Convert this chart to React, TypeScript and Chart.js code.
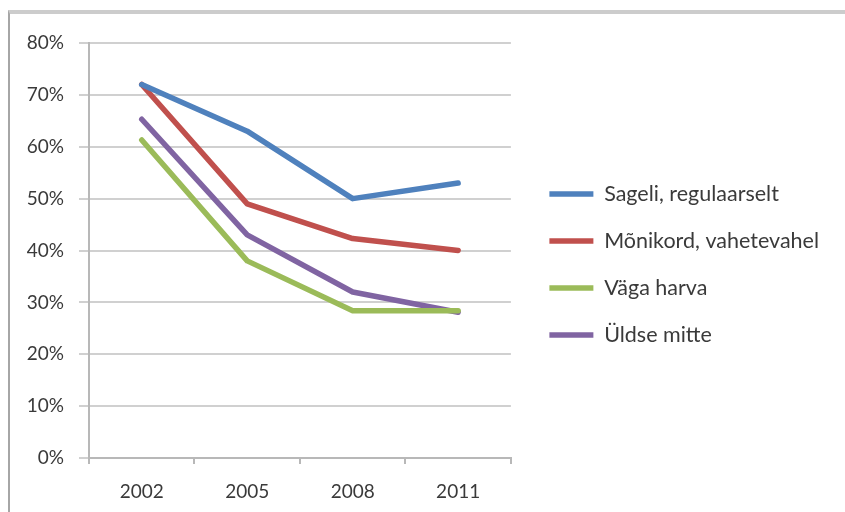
import React, { useEffect, useRef } from 'react';
import { Chart, registerables } from 'chart.js';

Chart.register(...registerables);

const years = ['2002', '2005', '2008', '2011'];
const sageliRegulaarselt = [72, 63, 50, 53];
const monikordVahetevahel = [72, 49, 42.3, 40];
const vagaHarva = [61.3, 38, 28.4, 28.4];
const uldseMitte = [65.3, 43, 32, 28.1];
const seriesNames = ['Sageli, regulaarselt', 'Mõnikord, vahetevahel', 'Väga harva', 'Üldse mitte'];
const seriesColors = ['#4f81bd', '#c0504d', '#9bbb59', '#8064a2'];
const yMin = 0;
const yMax = 80;
const yStep = 10;

export default function App() {
  const ref = useRef<HTMLCanvasElement>(null);
  useEffect(() => {
    const values = [sageliRegulaarselt, monikordVahetevahel, vagaHarva, uldseMitte];
    const chart = new Chart(ref.current!, {
      type: 'line',
      data: {
        labels: years,
        datasets: values.map((v, i) => ({
          label: seriesNames[i],
          data: v,
          borderColor: seriesColors[i],
          backgroundColor: seriesColors[i],
          borderWidth: 5.5,
          borderCapStyle: 'round' as const,
          borderJoinStyle: 'round' as const,
          pointRadius: 0,
          pointHoverRadius: 0,
          tension: 0,
          fill: false,
        })),
      },
      options: {
        responsive: false,
        animation: false,
        events: [],
        layout: { padding: { top: 29, left: 0, right: 16, bottom: 0 } },
        plugins: {
          tooltip: { enabled: false },
          legend: {
            position: 'right',
            align: 'center',
            fullSize: false,
            maxWidth: 400,
            title: { display: true, text: '', padding: 8, font: { size: 10 } },
            labels: {
              usePointStyle: true,
              pointStyle: 'line',
              pointStyleWidth: 44,
              padding: 25.5,
              color: '#3a3a3a',
              font: { family: 'Lato', size: 21.5 },
            },
          },
        },
        scales: {
          x: {
            type: 'category',
            offset: true,
            afterFit: (s: any) => { s.height = 54; },
            grid: {
              offset: true,
              drawOnChartArea: false,
              drawTicks: true,
              tickLength: 6,
              color: '#b8b8b8',
              lineWidth: 2,
            },
            border: { display: true, color: '#b8b8b8', width: 2 },
            ticks: {
              color: '#3a3a3a',
              padding: 16,
              font: { family: 'Lato', size: 19 },
              maxRotation: 0,
            },
          },
          y: {
            min: yMin,
            max: yMax,
            afterFit: (s: any) => { s.width = 79; },
            grid: {
              color: '#d0d0d0',
              lineWidth: 2,
              tickLength: 10,
              drawTicks: true,
            },
            border: { display: true, color: '#b8b8b8', width: 2 },
            ticks: {
              stepSize: yStep,
              color: '#3a3a3a',
              padding: 15,
              font: { family: 'Lato', size: 19 },
              callback: (v: any) => `${v}%`,
            },
          },
          gap: {
            type: 'linear',
            position: 'right',
            display: true,
            afterFit: (s: any) => { s.width = 13; },
            grid: { display: false, drawTicks: false },
            border: { display: false },
            ticks: { display: false },
          },
        },
      },
    } as any);
    return () => chart.destroy();
  }, []);
  return (
    <div
      style={{
        position: 'absolute',
        left: 8,
        top: 10,
        width: 835,
        height: 498,
        borderTop: '4px solid #cccccc',
        borderLeft: '2px solid #a6a6a6',
        background: '#ffffff',
      }}
    >
      <canvas ref={ref} width={835} height={498} style={{ display: 'block' }} />
    </div>
  );
}
